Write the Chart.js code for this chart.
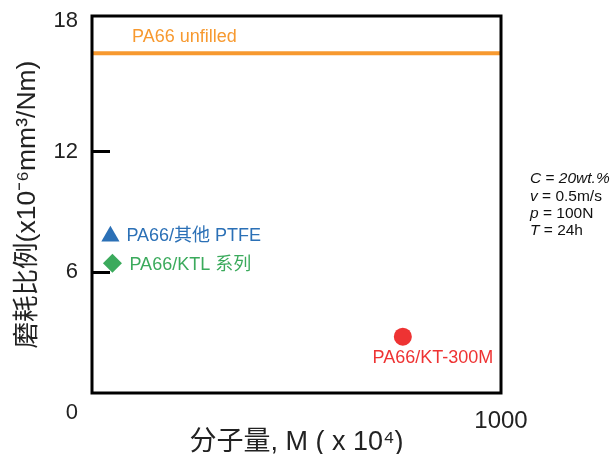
<!DOCTYPE html>
<html>
<head>
<meta charset="utf-8">
<script src="https://cdn.jsdelivr.net/npm/chart.js@4"></script>
<style>
  html, body { margin: 0; padding: 0; background: #fff; }
  #wrap { width: 611px; height: 454px; }
</style>
</head>
<body>
<div id="wrap"><canvas id="wearChart"></canvas></div>
<script>
const FONT = "'Liberation Sans', 'Noto Sans CJK SC', sans-serif";

// data
const seriesNames = ['PA66/其他 PTFE', 'PA66/KTL 系列', 'PA66/KT-300M'];
const molWeight = [45, 50, 760];          // x 10^4
const wearRate = [7.8, 6.45, 2.8];        // x10^-6 mm3/Nm
const unfilledName = 'PA66 unfilled';
const unfilledWear = 16.9;
const xRange = [0, 1000];
const xTickValues = [1000];
const xTickLabels = ['1000'];
const yTickValues = [0, 6, 12, 18];
const conditions = [
    [['C', 'i'], [' = ', 'n'], ['20wt.%', 'i']],
    [['v', 'i'], [' = 0.5m/s', 'n']],
    [['p', 'i'], [' = 100N', 'n']],
    [['T', 'i'], [' = 24h', 'n']]
];

const colors = {
    orange: '#F7992F',
    blue: '#2B70B6',
    green: '#3BAA5C',
    red: '#EE3333'
};

const markerStyles = [
    { color: colors.blue, style: 'triangle', radius: 10.5, dx: 16, dy: 0, align: 'left' },
    { color: colors.green, style: 'rectRot', radius: 9.5, dx: 17, dy: 2, align: 'left' },
    { color: colors.red, style: 'circle', radius: 9, dx: 30, dy: 21, align: 'center' }
];

const datasets = seriesNames.map((name, i) => ({
    type: 'scatter',
    label: name,
    data: [{ x: molWeight[i], y: wearRate[i] }],
    pointStyle: markerStyles[i].style,
    pointRadius: markerStyles[i].radius,
    pointHoverRadius: markerStyles[i].radius,
    backgroundColor: markerStyles[i].color,
    borderColor: markerStyles[i].color,
    borderWidth: 0,
    labelDx: markerStyles[i].dx,
    labelDy: markerStyles[i].dy,
    labelAlign: markerStyles[i].align
}));

datasets.unshift({
    type: 'line',
    label: unfilledName,
    data: xRange.map(x => ({ x: x, y: unfilledWear })),
    borderColor: colors.orange,
    backgroundColor: colors.orange,
    borderWidth: 4,
    pointRadius: 0,
    labelDx: 40,
    labelDy: -16,
    labelAlign: 'left'
});

// text next to each series
const pointLabels = {
    id: 'pointLabels',
    afterDatasetsDraw(chart) {
        const ctx = chart.ctx;
        ctx.save();
        ctx.font = `18px ${FONT}`;
        ctx.textBaseline = 'middle';
        chart.data.datasets.forEach((ds, i) => {
            const pt = chart.getDatasetMeta(i).data[0];
            if (!pt) return;
            ctx.fillStyle = ds.borderColor;
            ctx.textAlign = ds.labelAlign;
            ctx.fillText(ds.label, pt.x + ds.labelDx, pt.y + ds.labelDy);
        });
        ctx.restore();
    }
};

// black box round the plot area
const frame = {
    id: 'frame',
    afterDatasetsDraw(chart) {
        const { left, top, width, height } = chart.chartArea;
        const ctx = chart.ctx;
        ctx.save();
        ctx.strokeStyle = '#000';
        ctx.lineWidth = 3;
        ctx.strokeRect(left, top, width, height);
        ctx.restore();
    }
};

// test conditions on the right
const conditionText = {
    id: 'conditionText',
    afterDraw(chart) {
        const ctx = chart.ctx;
        const x0 = chart.chartArea.right + 29;
        const y0 = chart.chartArea.top + 163;
        ctx.save();
        ctx.fillStyle = '#111';
        ctx.textBaseline = 'middle';
        ctx.textAlign = 'left';
        conditions.forEach((line, row) => {
            let x = x0;
            line.forEach(([txt, kind]) => {
                ctx.font = `${kind === 'i' ? 'italic ' : ''}15.5px ${FONT}`;
                ctx.fillText(txt, x, y0 + row * 17.3);
                x += ctx.measureText(txt).width;
            });
        });
        ctx.restore();
    }
};

new Chart(document.getElementById('wearChart'), {
    data: { datasets },
    options: {
        responsive: true,
        maintainAspectRatio: false,
        animation: false,
        layout: { padding: { left: 14, right: 110, top: 16, bottom: 0 } },
        plugins: {
            legend: { display: false },
            tooltip: { enabled: false }
        },
        scales: {
            x: {
                type: 'linear',
                min: xRange[0],
                max: xRange[1],
                afterBuildTicks: s => { s.ticks = xTickValues.map(v => ({ value: v })); },
                afterFit: s => { s.height = 61; s.paddingLeft = 0; s.paddingRight = 0; },
                grid: { display: false },
                border: { display: false },
                ticks: {
                    color: '#222',
                    font: { family: FONT, size: 24 },
                    padding: 6,
                    maxRotation: 0,
                    autoSkip: false,
                    callback: v => xTickLabels[xTickValues.indexOf(v)]
                },
                title: {
                    display: true,
                    text: '分子量, M ( x 10⁴)',
                    color: '#222',
                    font: { family: FONT, size: 27, lineHeight: 1 },
                    padding: { top: 0, bottom: -2 }
                }
            },
            y: {
                type: 'linear',
                min: 0,
                max: 18.75,
                afterBuildTicks: s => { s.ticks = yTickValues.map(v => ({ value: v })); },
                afterFit: s => { s.width = 78; s.paddingTop = 0; s.paddingBottom = 0; },
                grid: {
                    drawOnChartArea: false,
                    drawTicks: true,
                    tickLength: -18,
                    tickWidth: 3,
                    tickColor: c => (c.tick && (c.tick.value === 6 || c.tick.value === 12)) ? '#000' : 'rgba(0,0,0,0)'
                },
                border: { display: false },
                ticks: {
                    color: '#222',
                    font: { family: FONT, size: 22, lineHeight: 0.9 },
                    padding: 32,
                    autoSkip: false,
                    callback: v => v === 0 ? ['', '', '0'] : (v === 18 ? ['18', ''] : String(v))
                },
                title: {
                    display: true,
                    text: '磨耗比例(x10⁻⁶mm³/Nm)',
                    color: '#222',
                    font: { family: FONT, size: 26.5, lineHeight: 1 },
                    padding: { top: 0, bottom: 0 }
                }
            }
        }
    },
    plugins: [pointLabels, frame, conditionText]
});
</script>
</body>
</html>
